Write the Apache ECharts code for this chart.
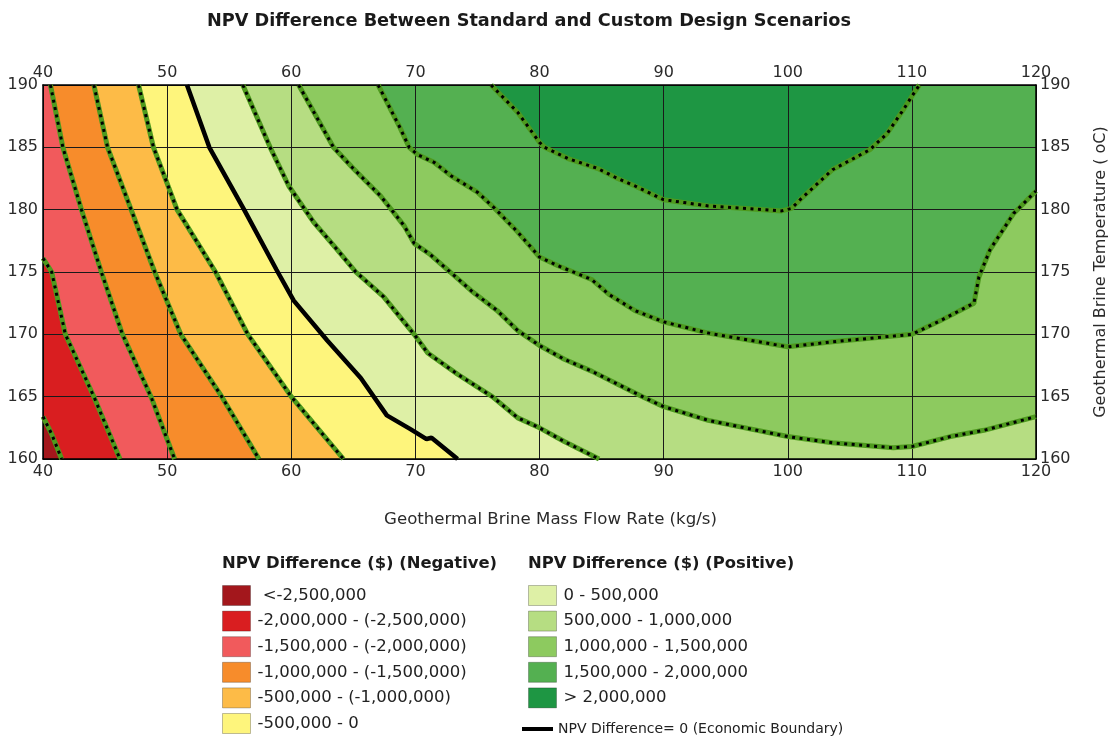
<!DOCTYPE html>
<html><head><meta charset="utf-8">
<script src="https://cdn.jsdelivr.net/npm/echarts@6/dist/echarts.min.js"></script>
<style>html,body{margin:0;padding:0;background:#fff}#c{width:1115px;height:739px}</style>
</head><body><div id="c"></div>
<script>
// ---- axis ticks ----
const flowTicks = [40, 50, 60, 70, 80, 90, 100, 110, 120];
const tempTicks = [160, 165, 170, 175, 180, 185, 190];

// ---- NPV bands (legend categories) ----
const bandLabels = [
  ' <-2,500,000',
  '-2,000,000 - (-2,500,000)',
  '-1,500,000 - (-2,000,000)',
  '-1,000,000 - (-1,500,000)',
  '-500,000 - (-1,000,000)',
  '-500,000 - 0',
  '0 - 500,000',
  '500,000 - 1,000,000',
  '1,000,000 - 1,500,000',
  '1,500,000 - 2,000,000',
  '> 2,000,000'
];
const bandColors = ['#a3171c','#d91e20','#f15a5c','#f78c2b','#fdbb47','#fef57c',
                    '#def0a6','#b6dd82','#8dca5f','#54b051','#1e9643'];
const zeroLineLabel = 'NPV Difference= 0 (Economic Boundary)';

// ---- contour lines [flow rate kg/s, temperature C] ----
const contourM25 = [[40,163.4],[40.7,162],[41.5,160]];
const contourM20 = [[40,176.1],[40.7,175],[41.8,170],[44.1,165],[46.2,160]];
const contourM15 = [[40.6,190],[41.6,185],[43.1,180],[44.7,175],[46.4,170],[48.7,165],[50.6,160]];
const contourM10 = [[44.1,190],[45.2,185],[47.1,180],[49.0,175],[51.1,170],[54.4,165],[57.4,160]];
const contourM05 = [[47.7,190],[48.9,185],[50.8,180],[53.9,175],[56.5,170],[60.0,165],[64.2,160]];
const contour0   = [[51.6,190],[53.4,185],[56.2,180],[58.8,175.2],[60.2,172.7],[62.9,169.5],[65.6,166.5],
                    [67.7,163.5],[69.6,162.4],[70.9,161.6],[71.3,161.7],[73.4,160]];
const contourP05 = [[56.1,190],[58.3,185],[59.8,181.9],[61.8,179],[63.7,176.8],[65.2,175],[67.45,173],[69.9,170],
                    [71.0,168.5],[73.4,166.8],[76.2,165],[78.25,163.3],[80,162.5],[82,161.4],[84.8,160]];
const contourP10 = [[60.6,190],[63.4,185],[65.0,183.3],[67.2,181.1],[69.1,178.7],[69.9,177.3],[71.2,176.4],
                    [72.8,175],[74.5,173.5],[76.6,171.9],[78.25,170.3],[80,169.1],[82,168],[84.2,167.05],
                    [86.3,166],[88.3,165],[90,164.2],[93.6,163.1],[100,161.8],[103.6,161.3],[108.5,160.9],
                    [110,161.0],[113.1,161.8],[115.8,162.3],[120,163.4]];
const contourP15 = [[67.0,190],[68.8,186.5],[69.5,185],[70.2,184.4],[71.5,183.8],[72.9,182.7],[75.0,181.4],
                    [76.4,180.1],[78.25,178.2],[80,176.2],[81.5,175.5],[84.2,174.4],[85.6,173.2],[87.7,171.9],
                    [90,171.0],[93.6,170.1],[100,169.0],[103.6,169.4],[110,170.0],[112.3,171.1],[115,172.5],
                    [115.4,174.6],[116.3,176.8],[118.2,179.7],[120,181.5]];
const contourP20 = [[76.1,190],[78.25,187.8],[80,185.4],[80.4,185],[82.3,184.1],[84.7,183.3],[86.3,182.5],
                    [87.7,181.9],[90,180.8],[93.6,180.3],[99.5,179.9],[100.3,180.1],[101,180.8],[103.6,183.2],
                    [106.6,184.8],[108,186.1],[109.3,188],[110,189.1],[110.6,190]];

// contours in increasing NPV order
const contours = [contourM25, contourM20, contourM15, contourM10, contourM05, contour0,
                  contourP05, contourP10, contourP15, contourP20];

// ---- build region polygons (in data space) ----
const xMin = flowTicks[0], xMax = flowTicks[flowTicks.length-1];
const yMin = tempTicks[0], yMax = tempTicks[tempTicks.length-1];
function edgeOf(p){
  if (Math.abs(p[1]-yMin) < 1e-6) return 'B';
  if (Math.abs(p[0]-xMax) < 1e-6) return 'R';
  if (Math.abs(p[1]-yMax) < 1e-6) return 'T';
  return 'L';
}
const nextCorner = {B:[[xMax,yMin],'R'], R:[[xMax,yMax],'T'], T:[[xMin,yMax],'L'], L:[[xMin,yMin],'B']};
function regionAbove(c){
  const pts = c.slice();
  const startEdge = edgeOf(c[0]);
  let e = edgeOf(c[c.length-1]);
  let guard = 0;
  while (e !== startEdge && guard++ < 5){
    const nc = nextCorner[e];
    pts.push(nc[0]); e = nc[1];
  }
  return pts;
}
const regions = [[[xMin,yMin],[xMax,yMin],[xMax,yMax],[xMin,yMax]]].concat(contours.map(regionAbove));

const FONT = 'DejaVu Sans';
const series = [];
regions.forEach(function(poly, i){
  series.push({
    type: 'custom', name: bandLabels[i], coordinateSystem: 'cartesian2d',
    z: 1, silent: true, clip: true,
    itemStyle: {color: bandColors[i]},
    data: [[80, 175]],
    renderItem: function(params, api){
      return {type:'polygon', shape:{points: poly.map(function(p){return api.coord(p);})},
              style:{fill: bandColors[i]}};
    }
  });
});
contours.forEach(function(c, i){
  if (c === contour0) return;
  series.push({type:'line', name:'base'+i, data:c, symbol:'none', silent:true, z:6,
    lineStyle:{color:'#4e9a1e', width:5}});
  series.push({type:'line', name:'dash'+i, data:c, symbol:'none', silent:true, z:7,
    lineStyle:{color:'#000', width:3, type:[3,4.5]}});
});
series.push({type:'line', name: zeroLineLabel, data: contour0, symbol:'none', silent:true, z:8,
  itemStyle:{color:'#000'}, lineStyle:{color:'#000', width:4.5}});

const labelStyle = {fontFamily: FONT, fontSize: 16, color: '#2a2a2a'};
const axisLineStyle = {show:true, lineStyle:{color:'#000', width:1.5}};
const gridLine = {show:true, lineStyle:{color:'#1a1a1a', width:1}};
const legendText = {fontFamily: FONT, fontSize: 16.5, color:'#222', padding:[0,0,0,2]};

const option = {
  animation: false,
  backgroundColor: '#fff',
  title: [
    {text:'NPV Difference Between Standard and Custom Design Scenarios', left: 207, top: 12, padding: 0,
     textStyle:{fontFamily: FONT, fontSize: 17.7, fontWeight:'bold', color:'#1a1a1a'}},
    {text:'NPV Difference ($) (Negative)', left: 222, top: 556, padding: 0,
     textStyle:{fontFamily: FONT, fontSize: 16.4, fontWeight:'bold', color:'#1a1a1a'}},
    {text:'NPV Difference ($) (Positive)', left: 528, top: 556, padding: 0,
     textStyle:{fontFamily: FONT, fontSize: 16.4, fontWeight:'bold', color:'#1a1a1a'}}
  ],
  legend: [
    {orient:'vertical', left: 222, top: 585, height: 154, padding: 0, itemWidth: 28, itemHeight: 20,
     itemGap: 4.6, icon:'rect', selectedMode:false, data: bandLabels.slice(0, 6),
     itemStyle:{borderColor:'rgba(0,0,0,0.25)', borderWidth:1}, textStyle: legendText},
    {orient:'vertical', left: 528, top: 585, height: 154, padding: 0, itemWidth: 28, itemHeight: 20,
     itemGap: 4.6, icon:'rect', selectedMode:false, data: bandLabels.slice(6),
     itemStyle:{borderColor:'rgba(0,0,0,0.25)', borderWidth:1}, textStyle: legendText},
    {orient:'vertical', left: 522, top: 722, padding: 0, itemWidth: 31, itemHeight: 4, icon:'rect',
     selectedMode:false, data: [zeroLineLabel],
     textStyle:{fontFamily: FONT, fontSize: 14, color:'#222'}}
  ],
  grid: {left: 43, right: 79, top: 85, bottom: 280, containLabel: false, outerBoundsMode: 'none'},
  xAxis: [
    {type:'value', position:'bottom', min:xMin, max:xMax, interval: flowTicks[1]-flowTicks[0], z:4,
     name:'Geothermal Brine Mass Flow Rate (kg/s)', nameLocation:'middle', nameGap: 52,
     nameTextStyle:{fontFamily: FONT, fontSize: 16.6, color:'#2a2a2a', padding:[0,0,0,22]},
     axisLine: axisLineStyle, axisTick:{show:false}, axisLabel: Object.assign({margin:5}, labelStyle),
     splitLine: gridLine},
    {type:'value', position:'top', min:xMin, max:xMax, interval: flowTicks[1]-flowTicks[0], z:4,
     axisLine: axisLineStyle, axisTick:{show:false}, axisLabel: Object.assign({margin:4}, labelStyle),
     splitLine:{show:false}}
  ],
  yAxis: [
    {type:'value', position:'left', min:yMin, max:yMax, interval: tempTicks[1]-tempTicks[0], z:4,
     axisLine: axisLineStyle, axisTick:{show:false}, axisLabel: Object.assign({margin:5}, labelStyle),
     splitLine: gridLine},
    {type:'value', position:'right', min:yMin, max:yMax, interval: tempTicks[1]-tempTicks[0], z:4,
     name:'Geothermal Brine Temperature ( oC)', nameLocation:'middle', nameGap: 57, nameRotate: 90,
     nameTextStyle:{fontFamily: FONT, fontSize: 16, color:'#2a2a2a'},
     axisLine: axisLineStyle, axisTick:{show:false}, axisLabel: Object.assign({margin:4}, labelStyle),
     splitLine:{show:false}}
  ],
  series: series
};
const chart = echarts.init(document.getElementById('c'), null, {renderer:'canvas'});
chart.setOption(option);
</script></body></html>
